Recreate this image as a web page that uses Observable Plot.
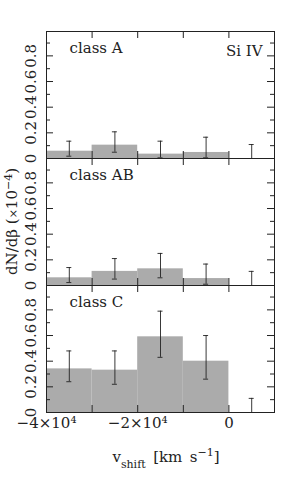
<!DOCTYPE html>
<html>
<head>
<meta charset="utf-8">
<script src="https://cdn.jsdelivr.net/npm/d3@7"></script>
<script src="https://cdn.jsdelivr.net/npm/@observablehq/plot@0.6"></script>
<style>
  html, body { margin: 0; padding: 0; background: #fff; }
  #chart svg { display: block; }
</style>
</head>
<body>
<div id="chart"></div>
<script>
// ---- data ----
const classes = ["class A", "class AB", "class C"];
const binStart = [-40000, -30000, -20000, -10000, 0];
const binEnd   = [-30000, -20000, -10000, 0, 10000];
const valsA  = [0.057, 0.104, 0.034, 0.047, 0];
const loA    = [0.018, 0.049, 0.005, 0.005, 0];
const hiA    = [0.135, 0.208, 0.135, 0.166, 0.109];
const valsAB = [0.06, 0.11, 0.13, 0.054, 0];
const loAB   = [0.023, 0.05, 0.06, 0.01, 0];
const hiAB   = [0.14, 0.21, 0.25, 0.167, 0.11];
const valsC  = [0.34, 0.33, 0.59, 0.40, 0];
const loC    = [0.24, 0.22, 0.43, 0.26, 0];
const hiC    = [0.48, 0.48, 0.79, 0.60, 0.11];
const yMajor = [0, 0.2, 0.4, 0.6, 0.8];
const yMinor = [0.1, 0.3, 0.5, 0.7, 0.9];
const xTicks = [-30000, -20000, -10000, 0];
const xLabelTicks = [-40000, -20000, 0];
const xTickText = ["\u22124\u00d710\u2074", "\u22122\u00d710\u2074", "0"];
const lineLabel = "Si IV";

// ---- build table ----
const series = [[valsA, loA, hiA], [valsAB, loAB, hiAB], [valsC, loC, hiC]];
const rows = [];
classes.forEach((c, i) => {
  binStart.forEach((s, j) => {
    rows.push({cls: c, x1: s, x2: binEnd[j], xc: (s + binEnd[j]) / 2,
      v: series[i][0][j], lo: series[i][1][j], hi: series[i][2][j]});
  });
});

// ---- layout ----
const W = 305, H = 486;
const mL = 46, mR = 31, mT = 31, mB = 74;
const innerW = W - mL - mR;
const facetH = (H - mT - mB) / classes.length;
const ink = "#222";
const font = "DejaVu Serif";

const plot = Plot.plot({
  width: W, height: H,
  marginLeft: mL, marginRight: mR, marginTop: mT, marginBottom: mB,
  style: {fontFamily: font, fontSize: "15px", color: ink, background: "#fff"},
  x: {domain: [-40000, 10000]},
  y: {domain: [0, 0.99]},
  fy: {domain: classes, padding: 0, axis: null, label: null},
  marks: [
    Plot.rectY(rows, {x1: "x1", x2: "x2", y: "v", fy: "cls", fill: "#ababab"}),
    Plot.ruleX(rows, {x: "xc", y1: "lo", y2: "hi", fy: "cls", stroke: ink, strokeWidth: 0.9}),
    Plot.ruleY(rows, {y: "hi", x1: "xc", x2: "xc", fy: "cls", insetLeft: -2.5, insetRight: -2.5, stroke: ink, strokeWidth: 0.9}),
    Plot.ruleY(rows, {y: "lo", x1: "xc", x2: "xc", fy: "cls", insetLeft: -2.5, insetRight: -2.5, stroke: ink, strokeWidth: 0.9}),
    // inward ticks
    Plot.tickY(yMajor, {y: d => d, insetRight: innerW - 7, stroke: ink}),
    Plot.tickY(yMinor, {y: d => d, insetRight: innerW - 4, stroke: ink}),
    Plot.tickY(yMajor, {y: d => d, insetLeft: innerW - 7, stroke: ink}),
    Plot.tickY(yMinor, {y: d => d, insetLeft: innerW - 4, stroke: ink}),
    Plot.tickX(xTicks, {x: d => d, insetBottom: facetH - 7, stroke: ink}),
    Plot.tickX(xTicks, {x: d => d, insetTop: facetH - 7, stroke: ink}),
    Plot.frame({stroke: ink, strokeWidth: 1}),
    Plot.axisY(yMajor, {anchor: "left", tickSize: 0, tickRotate: -90, tickPadding: 11,
      tickFormat: d => d === 0 ? "0" : d.toFixed(1), label: null, fontSize: 15}),
    Plot.axisX(xLabelTicks, {anchor: "bottom", tickSize: 0, tickPadding: 5,
      tickFormat: (d, i) => xTickText[i], label: null, fontSize: 15}),
    Plot.text(classes, {fy: d => d, text: d => d, frameAnchor: "top-left", dx: 23, dy: 11,
      lineAnchor: "top", fontSize: 15, fill: ink}),
    Plot.text([lineLabel], {fy: () => classes[0], text: d => d, frameAnchor: "top-right", dx: -12, dy: 14,
      lineAnchor: "top", fontSize: 15, fill: ink})
  ]
});

document.getElementById("chart").appendChild(plot);

// axis titles with sub/superscripts
const svg = d3.select(plot);
const xt = svg.append("text")
  .attr("x", mL + innerW / 2 + 6).attr("y", H - mB + 50)
  .attr("text-anchor", "middle").attr("fill", ink)
  .style("font-family", font).style("font-size", "15px");
xt.append("tspan").text("v");
xt.append("tspan").attr("dy", 6).style("font-size", "11px").text("shift");
xt.append("tspan").attr("dy", -6).text("\u2002[km\u2002s");
xt.append("tspan").attr("dy", -6).style("font-size", "11px").text("\u22121");
xt.append("tspan").attr("dy", 6).text("]");

const yt = svg.append("text")
  .attr("transform", `translate(17,${mT + (H - mT - mB) / 2}) rotate(-90)`)
  .attr("text-anchor", "middle").attr("fill", ink)
  .style("font-family", font).style("font-size", "15px");
yt.append("tspan").text("dN/d\u03b2 (");
yt.append("tspan").style("font-size", "11px").text("\u00d7");
yt.append("tspan").text("10");
yt.append("tspan").attr("dy", -5).style("font-size", "11px").text("\u22124");
yt.append("tspan").attr("dy", 5).text(")");
</script>
</body>
</html>
